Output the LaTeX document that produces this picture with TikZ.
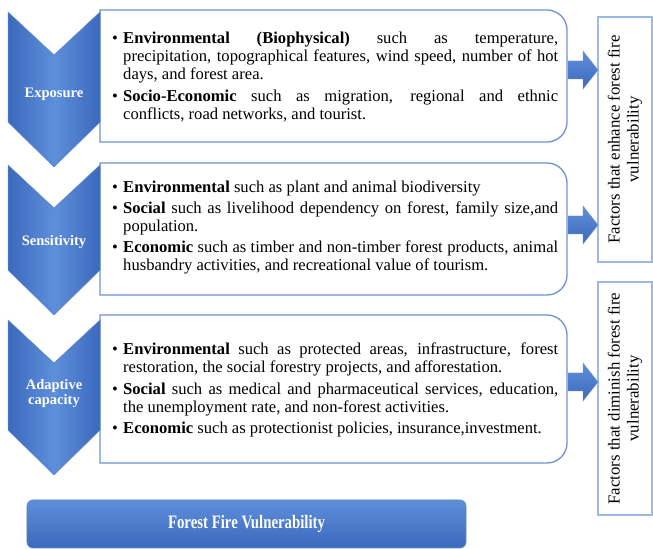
\documentclass[tikz,border=0pt]{standalone}
\usepackage{fontspec}
\usepackage{graphicx}
\setmainfont{Liberation Serif}
\definecolor{chevmid}{HTML}{5E8FDA}
\definecolor{chevedge}{HTML}{3B69BC}
\definecolor{boxline}{HTML}{6F93D1}
\definecolor{sideline}{HTML}{9DB9E3}
\newcommand\bul{\par\hangindent=13bp\hangafter=1\noindent\makebox[13bp][l]{\hspace{2bp}\textbullet}}
\newcommand\myrbox[2]{\draw[boxstyle] (100,#2) -- (100,#1) -- (547,#1) arc[start angle=90,end angle=0,radius=20] -- (567,#2+20) arc[start angle=0,end angle=-90,radius=20] -- cycle;}
\newcommand\mychev[2]{\path[chevstyle] (8,#1) -- (54,#1-43) -- (100,#1) -- (100,#2+45) -- (54,#2) -- (8,#2+45) -- cycle;}
\newcommand\myarrow[1]{\path[arrstyle] (568,#1-9) -- (583,#1-9) -- (583,#1-19) -- (598,#1) -- (583,#1+19) -- (583,#1+9) -- (568,#1+9) -- cycle;}
\begin{document}
\begin{tikzpicture}[x=1bp,y=1bp,
  boxstyle/.style={draw=boxline,line width=1.3bp,fill=white},
  chevstyle/.style={left color=chevedge,right color=chevedge,middle color=chevmid,draw=chevedge!80,line width=0.5bp},
  arrstyle/.style={top color=chevmid,bottom color=chevedge,draw=chevedge!70,line width=0.4bp},
  bodytext/.style={anchor=west,inner sep=0pt,text width=448bp,align=justify,font=\fontsize{16.6bp}{18.2bp}\selectfont},
  chevlabel/.style={text=white,font=\fontsize{14.5bp}{16bp}\selectfont\bfseries,align=center,inner sep=0pt},
  sidebox/.style={draw=sideline,line width=1.1bp,fill=white,minimum width=54bp,inner sep=0pt},
  sidetext/.style={rotate=90,align=center,font=\fontsize{16.8bp}{19bp}\selectfont,inner sep=0pt}]
\useasboundingbox (0,0) rectangle (653,549);
\fill[white] (0,0) rectangle (653,549);
% text boxes
\myrbox{539}{407}
\myrbox{386}{254}
\myrbox{234}{86}
% chevrons
\mychev{537}{382}
\mychev{384}{234}
\mychev{229}{74}
\node[chevlabel] (lexp) at (54,455) {Exposure};
\node[chevlabel] (lsen) at (54,307) {Sensitivity};
\node[chevlabel] (lada) at (54,155) {Adaptive\\[-1bp]capacity};
% body texts
\node[bodytext] (t1) at (110,477) {\parskip=3bp
\bul\textbf{Environmental (Biophysical)} such as temperature,\linebreak precipitation, topographical features, wind speed, number of hot\linebreak days, and forest area.
\bul\textbf{Socio-Economic} such as migration, regional and ethnic\linebreak conflicts, road networks, and tourist.\par};
\node[bodytext] (t2) at (110,326) {\parskip=2.5bp
\bul\textbf{Environmental} such as plant and animal biodiversity
\bul\textbf{Social} such as livelihood dependency on forest, family size,and\linebreak population.
\bul\textbf{Economic} such as timber and non-timber forest products, animal\linebreak husbandry activities, and recreational value of tourism.\par};
\node[bodytext] (t3) at (110,164) {\parskip=3.5bp
\bul\textbf{Environmental} such as protected areas, infrastructure, forest\linebreak restoration, the social forestry projects, and afforestation.
\bul\textbf{Social} such as medical and pharmaceutical services, education,\linebreak the unemployment rate, and non-forest activities.
\bul\textbf{Economic} such as protectionist policies, insurance,investment.\par};
% side boxes
\node[sidebox,minimum height=245bp] (s1) at (625,409.5) {};
\node[sidebox,minimum height=233bp] (s2) at (625,150.5) {};
\node[sidetext] (st1) at (s1.center) {Factors that enhance forest fire\\vulnerability};
\node[sidetext] (st2) at (s2.center) {Factors that diminish forest fire\\vulnerability};
% block arrows
\myarrow{479}
\myarrow{324}
\myarrow{167}
% bottom bar
\node[rounded corners=6bp,top color=chevmid,bottom color=chevedge,draw=chevedge!80,line width=0.6bp,minimum width=439bp,minimum height=48bp,inner sep=0pt] (bar) at (246.5,25) {};
\node[text=white,font=\fontsize{19bp}{20bp}\selectfont\bfseries] (bart) at (bar.center) {\scalebox{0.78}[1]{Forest Fire Vulnerability}};
\end{tikzpicture}
\end{document}
